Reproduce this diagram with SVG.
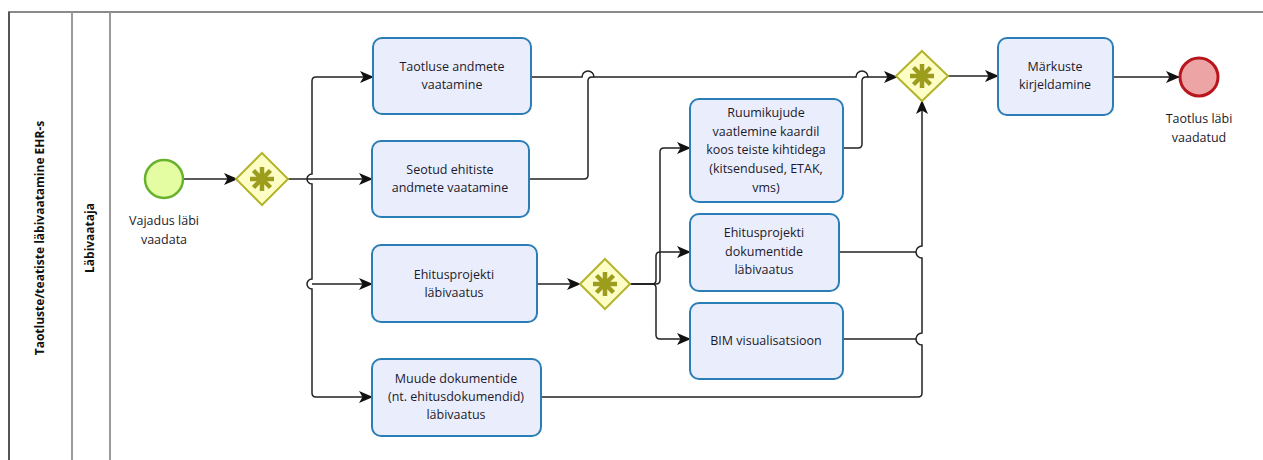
<svg xmlns="http://www.w3.org/2000/svg" width="1263" height="460" viewBox="0 0 1263 460">
  <style>
    .lane { fill: none; stroke: #9a9a9a; stroke-width: 2; }
    .task { fill: #eaeefc; stroke: #2a7db5; stroke-width: 2; }
    .gw { fill: #fdfdc6; stroke: #b4b42c; stroke-width: 2; }
    .ast { stroke: #9d9d1d; stroke-width: 4.5; stroke-linecap: butt; }
    .flow { fill: none; stroke: #222; stroke-width: 1.5; }
    .lbl { font-family: "Open Sans", "Noto Sans", sans-serif; font-size: 12.5px; fill: #1c1a2c; text-anchor: middle; }
    .head { font-family: "Open Sans", "Noto Sans", sans-serif; font-size: 12px; font-weight: bold; fill: #111; text-anchor: middle; }
  </style>
  <defs>
    <marker id="arrow" viewBox="0 0 14 12" refX="13" refY="6" markerWidth="14" markerHeight="12" markerUnits="userSpaceOnUse" orient="auto">
      <path d="M0,0 L14,6 L0,12 L3.5,6 z" fill="#111"/>
    </marker>
    <g id="asterisk">
      <line class="ast" x1="0" y1="-12" x2="0" y2="12"/>
      <line class="ast" x1="-12" y1="0" x2="12" y2="0"/>
      <line class="ast" x1="-8.5" y1="-8.5" x2="8.5" y2="8.5"/>
      <line class="ast" x1="-8.5" y1="8.5" x2="8.5" y2="-8.5"/>
    </g>
  </defs>

  <rect width="1263" height="460" fill="#fff"/>

  <!-- pool and lane -->
  <g id="pool">
    <line x1="8" y1="12" x2="1263" y2="12" stroke="#8a8a8a" stroke-width="2"/>
    <line x1="9" y1="12" x2="9" y2="460" stroke="#555" stroke-width="2"/>
    <line class="lane" x1="72" y1="12" x2="72" y2="460"/>
    <line class="lane" x1="110" y1="12" x2="110" y2="460"/>
    <text class="head" transform="translate(44,238) rotate(-90)">Taotluste/teatiste läbivaatamine EHR-s</text>
    <text class="head" transform="translate(94,238) rotate(-90)">Läbivaataja</text>
  </g>

  <!-- sequence flows -->
  <g id="connectors">
    <path class="flow" d="M183,179 H237" marker-end="url(#arrow)"/>
    <path class="flow" d="M288,179 H312"/>
    <!-- split trunk with hops -->
    <path class="flow" d="M312,81 V174 a5,5 0 0 0 0,10 V279 a5,5 0 0 0 0,10 V393"/>
    <path class="flow" d="M312,81 Q312,77 316,77 H373" marker-end="url(#arrow)"/>
    <path class="flow" d="M312,179 H372" marker-end="url(#arrow)"/>
    <path class="flow" d="M312,284 H372" marker-end="url(#arrow)"/>
    <path class="flow" d="M312,393 Q312,397 316,397 H372" marker-end="url(#arrow)"/>
    <!-- top line to the join gateway -->
    <path class="flow" d="M531,77 H582 a6,6 0 0 1 12,0 H856 a6,6 0 0 1 12,0 H897" marker-end="url(#arrow)"/>
    <path class="flow" d="M529,179 H584 Q588,179 588,175 V81 Q588,77 592,77 H594"/>
    <path class="flow" d="M843,148 H858 Q862,148 862,144 V81 Q862,77 866,77 H868"/>
    <!-- second split -->
    <path class="flow" d="M537,284 H580" marker-end="url(#arrow)"/>
    <path class="flow" d="M630,284 H656 Q660,284 660,280 V152 Q660,148 664,148 H690" marker-end="url(#arrow)"/>
    <path class="flow" d="M630,284 H652 Q656,284 656,280 V256 Q656,252 660,252 H690" marker-end="url(#arrow)"/>
    <path class="flow" d="M630,284 H652 Q656,284 656,288 V335 Q656,339 660,339 H690" marker-end="url(#arrow)"/>
    <!-- returns into the join -->
    <path class="flow" d="M839,252 H916"/>
    <path class="flow" d="M843,339 H916"/>
    <path class="flow" d="M541,397 H918 Q922,397 922,393 V345 a6,6 0 0 1 0,-12 V258 a6,6 0 0 1 0,-12 V101" marker-end="url(#arrow)"/>
    <!-- join to end -->
    <path class="flow" d="M948,76 H998" marker-end="url(#arrow)"/>
    <path class="flow" d="M1113,77 H1179" marker-end="url(#arrow)"/>
  </g>

  <g id="start">
    <circle cx="164" cy="179" r="19" fill="#e4fca2" stroke="#66b22d" stroke-width="2.5"/>
    <text class="lbl" x="164" y="225">Vajadus läbi</text>
    <text class="lbl" x="164" y="244">vaadata</text>
  </g>

  <g id="split1">
    <polygon class="gw" points="262,153 288,179 262,205 236,179"/>
    <use href="#asterisk" x="262" y="179"/>
  </g>

  <g id="task-taotlus">
    <rect class="task" x="373" y="38" width="158" height="76" rx="9"/>
    <text class="lbl" x="452" y="71">Taotluse andmete</text>
    <text class="lbl" x="452" y="89">vaatamine</text>
  </g>

  <g id="task-seotud">
    <rect class="task" x="372" y="141" width="157" height="76" rx="9"/>
    <text class="lbl" x="450" y="174">Seotud ehitiste</text>
    <text class="lbl" x="450" y="192">andmete vaatamine</text>
  </g>

  <g id="task-ehitusprojekt">
    <rect class="task" x="372" y="245" width="165" height="77" rx="9"/>
    <text class="lbl" x="454" y="279">Ehitusprojekti</text>
    <text class="lbl" x="454" y="297">läbivaatus</text>
  </g>

  <g id="task-muude">
    <rect class="task" x="372" y="359" width="169" height="77" rx="9"/>
    <text class="lbl" x="456" y="383">Muude dokumentide</text>
    <text class="lbl" x="456" y="401">(nt. ehitusdokumendid)</text>
    <text class="lbl" x="456" y="419">läbivaatus</text>
  </g>

  <g id="split2">
    <polygon class="gw" points="605,259 630,284 605,309 580,284"/>
    <use href="#asterisk" x="605" y="284"/>
  </g>

  <g id="task-ruumikujud">
    <rect class="task" x="690" y="99" width="153" height="103" rx="9"/>
    <text class="lbl" x="766" y="117">Ruumikujude</text>
    <text class="lbl" x="766" y="136">vaatlemine kaardil</text>
    <text class="lbl" x="766" y="154">koos teiste kihtidega</text>
    <text class="lbl" x="766" y="173">(kitsendused, ETAK,</text>
    <text class="lbl" x="766" y="192">vms)</text>
  </g>

  <g id="task-dokumendid">
    <rect class="task" x="690" y="214" width="149" height="77" rx="9"/>
    <text class="lbl" x="764" y="237">Ehitusprojekti</text>
    <text class="lbl" x="764" y="256">dokumentide</text>
    <text class="lbl" x="764" y="274">läbivaatus</text>
  </g>

  <g id="task-bim">
    <rect class="task" x="690" y="303" width="153" height="76" rx="9"/>
    <text class="lbl" x="766" y="345">BIM visualisatsioon</text>
  </g>

  <g id="join">
    <polygon class="gw" points="922,51 948,76 922,101 896,76"/>
    <use href="#asterisk" x="922" y="76"/>
  </g>

  <g id="task-markused">
    <rect class="task" x="998" y="38" width="115" height="77" rx="9"/>
    <text class="lbl" x="1055" y="71">Märkuste</text>
    <text class="lbl" x="1055" y="89">kirjeldamine</text>
  </g>

  <g id="end">
    <circle cx="1199" cy="77" r="19" fill="#eca4a4" stroke="#b8161c" stroke-width="3"/>
    <text class="lbl" x="1199" y="123">Taotlus läbi</text>
    <text class="lbl" x="1199" y="142">vaadatud</text>
  </g>
</svg>
